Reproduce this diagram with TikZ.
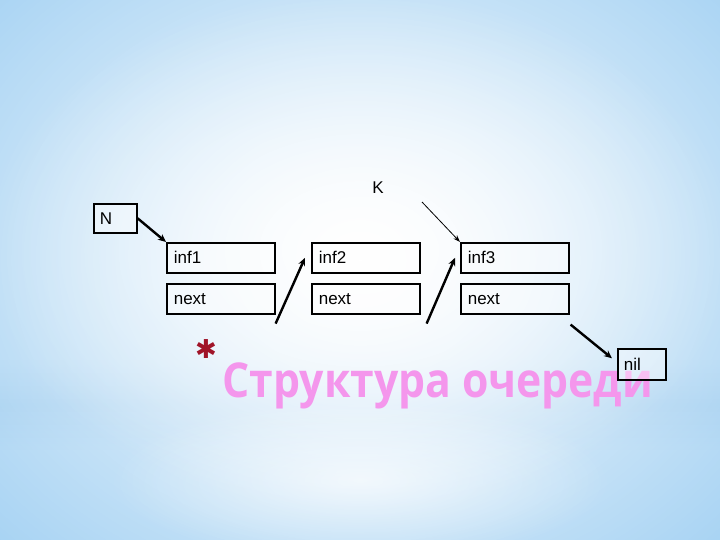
\documentclass[tikz,border=0pt]{standalone}
\usepackage{fontspec}
\setmainfont{Liberation Sans}
\newfontfamily\titlefont{Open Sans}
\newfontfamily\symfont{DejaVu Sans}
\usetikzlibrary{calc,arrows.meta,fadings}
\definecolor{bgblue}{RGB}{165,210,243}
\definecolor{bandblue}{RGB}{150,200,238}
\definecolor{titlepink}{RGB}{244,150,236}
\definecolor{astred}{RGB}{160,20,40}
\tikzfading[name=bandfade, top color=transparent!100, bottom color=transparent!100, middle color=transparent!30]
\tikzfading[name=myfade, inner color=transparent!0, outer color=transparent!100]
\tikzset{
  cell/.style={draw=black, line width=1.6pt, fill=white, fill opacity=0.4, text opacity=1,
    minimum width=108pt, minimum height=30pt, anchor=north west, inner xsep=7pt, inner ysep=0pt,
    text width=94pt, align=left, font=\fontsize{17}{19}\selectfont},
  ptrbox/.style={draw=black, line width=1.6pt, fill=white, fill opacity=0.4, text opacity=1,
    minimum width=43pt, minimum height=29pt, anchor=north west, inner xsep=6pt, inner ysep=0pt,
    text width=31pt, align=left, font=\fontsize{17}{19}\selectfont},
  thickarrow/.style={draw=black, line width=2.4pt, -{Stealth[length=8pt,width=7pt]}},
  thinarrow/.style={draw=black, line width=0.8pt, -{Stealth[length=7pt,width=5pt]}}
}
\begin{document}
\begin{tikzpicture}[x=1pt,y=-1pt]
\useasboundingbox (0,0) rectangle (720,540);
% background
\fill[bgblue] (0,0) rectangle (720,540);
\fill[bandblue, path fading=bandfade] (0,360) rectangle (720,450);
\fill[white, path fading=myfade] (360,260) ellipse (520 and 420);
\fill[white, path fading=myfade, opacity=0.9] (360,250) ellipse (380 and 260);
\fill[white, path fading=myfade, opacity=0.7] (360,480) ellipse (250 and 80);
% title
\node[anchor=base west, inner sep=0pt, text=titlepink, font=\titlefont\bfseries\fontsize{48}{52}\selectfont] (title) at (222,397) {\scalebox{0.89}[1]{Структура очереди}};
\node[text=astred, inner sep=0pt, font=\symfont\fontsize{26}{28}\selectfont] (ast) at (206,349) {✱};
% nodes
\node[ptrbox] (N) at (93,203) {N};
\node[cell] (i1) at (166,242) {inf1};
\node[cell] (n1) at (166,283) {next};
\node[cell] (i2) at (311,242) {inf2};
\node[cell] (n2) at (311,283) {next};
\node[cell] (i3) at (460,242) {inf3};
\node[cell] (n3) at (460,283) {next};
\node[ptrbox, minimum width=48pt, minimum height=31pt, text width=36pt] (nil) at (617,348) {nil};
\node[inner sep=0pt, font=\fontsize{17}{19}\selectfont] (K) at (378,188) {K};
% connector coordinates
\coordinate (kstart) at (422,202);
\coordinate (a1s) at ($(n1.south east)+(0,9)$);
\coordinate (a1e) at ($(i2.west)+(-6,0)$);
\coordinate (a2s) at ($(n2.south east)+(6,9)$);
\coordinate (a2e) at ($(i3.west)+(-5,0)$);
\coordinate (a3s) at ($(n3.south east)+(1,10)$);
\coordinate (a3e) at ($(nil.west)+(-5,-6)$);
% connectors
\draw[thickarrow] (N.east) -- (i1.north west);
\draw[thinarrow] (kstart) -- (i3.north west);
\draw[thickarrow] (a1s) -- (a1e);
\draw[thickarrow] (a2s) -- (a2e);
\draw[thickarrow] (a3s) -- (a3e);
\end{tikzpicture}
\end{document}
